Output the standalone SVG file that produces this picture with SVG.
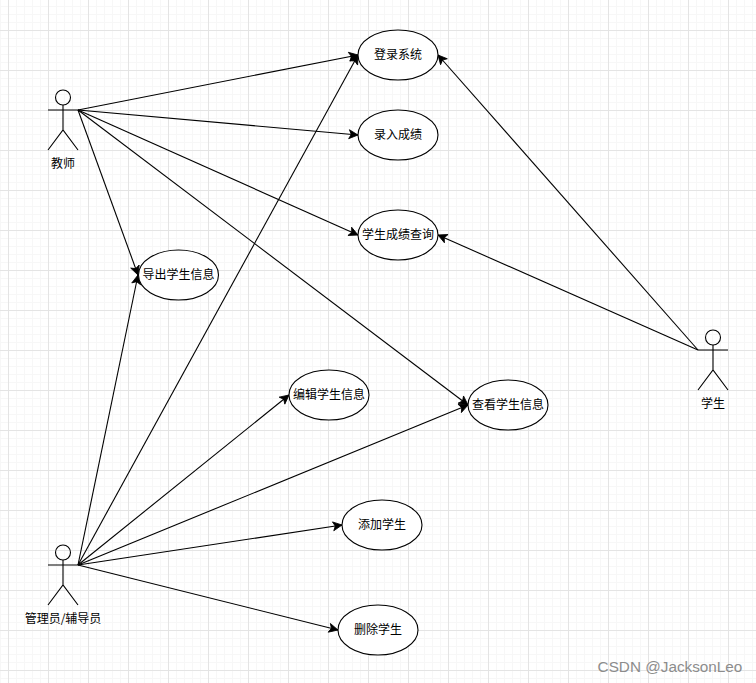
<svg xmlns="http://www.w3.org/2000/svg" width="756" height="683" viewBox="0 0 756 683">
<style>
.u{fill:#fff;stroke:#000;stroke-width:1.1}
.a{fill:none;stroke:#000;stroke-width:1.1}
.c{fill:none;stroke:#000;stroke-width:1.1;marker-end:url(#arr)}
text{font-family:"Noto Sans CJK SC","Liberation Sans",sans-serif;font-size:12px;fill:#000;text-anchor:middle}
</style>
<defs>
<marker id="arr" markerUnits="userSpaceOnUse" markerWidth="12" markerHeight="12" refX="9" refY="4.500" orient="auto" overflow="visible"><path d="M0 0L9 4.500L0 9L2.200 4.500Z" fill="#000" stroke="#000" stroke-width="0.8"/></marker>
<pattern id="g" width="40" height="40" patternUnits="userSpaceOnUse" x="8" y="30">
<path d="M8.500 0V40M16.500 0V40M24.500 0V40M32.500 0V40M0 8.500H40M0 16.500H40M0 24.500H40M0 32.500H40" stroke="#f7f7f7" fill="none"/>
<path d="M.5 0V40M0 .5H40" stroke="#e4e4e4" fill="none"/>
</pattern>
</defs>
<rect width="756" height="683" fill="#fff"/>
<rect width="756" height="683" fill="url(#g)"/>
<g id="connectors">
<path class="c" d="M78 110L358 55"/>
<path class="c" d="M78 110L358 135"/>
<path class="c" d="M78 110L358 235"/>
<path class="c" d="M78 110L138 275"/>
<path class="c" d="M78 110L468 405"/>
<path class="c" d="M78 565L138 275"/>
<path class="c" d="M78 565L358 55"/>
<path class="c" d="M78 565L289 395"/>
<path class="c" d="M78 565L468 405"/>
<path class="c" d="M78 565L342 525"/>
<path class="c" d="M78 565L338 630"/>
<path class="c" d="M698 350L438 55"/>
<path class="c" d="M698 350L438 235"/>
</g>
<g id="teacher"><circle class="a" cx="63" cy="97.500" r="7.500"/><path class="a" d="M63 105V130M48 110H78M48 150L63 130L78 150"/><text x="63" y="168">教师</text></g>
<g id="admin"><circle class="a" cx="63" cy="552.500" r="7.500"/><path class="a" d="M63 560V585M48 565H78M48 605L63 585L78 605"/><text x="63" y="623">管理员/辅导员</text></g>
<g id="student"><circle class="a" cx="713" cy="337.500" r="7.500"/><path class="a" d="M713 345V370M698 350H728M698 390L713 370L728 390"/><text x="713" y="408">学生</text></g>
<g id="login"><ellipse class="u" cx="398" cy="55" rx="40" ry="25"/><text x="398" y="59">登录系统</text></g>
<g id="grades"><ellipse class="u" cx="398" cy="135" rx="40" ry="25"/><text x="398" y="139">录入成绩</text></g>
<g id="query"><ellipse class="u" cx="398" cy="235" rx="40" ry="25"/><text x="398" y="239">学生成绩查询</text></g>
<g id="export"><ellipse class="u" cx="178.500" cy="275" rx="40" ry="25"/><text x="178.500" y="279">导出学生信息</text></g>
<g id="edit"><ellipse class="u" cx="329" cy="395" rx="40" ry="25"/><text x="329" y="399">编辑学生信息</text></g>
<g id="view"><ellipse class="u" cx="508" cy="405" rx="40" ry="25"/><text x="508" y="409">查看学生信息</text></g>
<g id="add"><ellipse class="u" cx="382" cy="525" rx="40" ry="25"/><text x="382" y="529">添加学生</text></g>
<g id="delete"><ellipse class="u" cx="378" cy="630" rx="40" ry="25"/><text x="378" y="634">删除学生</text></g>
<text x="670" y="672" style="font-family:'Liberation Sans',sans-serif;font-size:15.300px;fill:#8c8c8c">CSDN @JacksonLeo</text>
</svg>
